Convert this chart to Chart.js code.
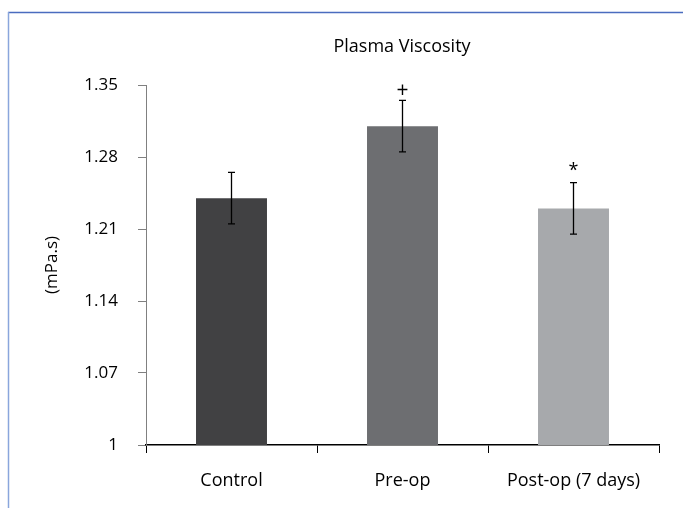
<!DOCTYPE html>
<html>
<head>
<meta charset="utf-8">
<script src="https://cdn.jsdelivr.net/npm/chart.js@4/dist/chart.umd.min.js"></script>
<style>
  html, body { margin: 0; padding: 0; background: #ffffff; }
  #wrap { width: 683px; height: 508px; position: relative; }
</style>
</head>
<body>
<div id="wrap"><canvas id="c" width="683" height="508"></canvas></div>
<script>
// ---- data ----
const categories = ['Control', 'Pre-op', 'Post-op (7 days)'];
const viscosity = [1.240, 1.310, 1.230];
const errorSD = [0.025, 0.025, 0.025];
const significance = ['', '+', '*'];
const yTickValues = [1, 1.07, 1.14, 1.21, 1.28, 1.35];
const barColors = ['#414143', '#6d6e71', '#a7a9ac'];

const FONT = "'Open Sans', 'Noto Sans', sans-serif";

const framePlugin = {
  id: 'frame',
  beforeDraw(chart) {
    const ctx = chart.ctx;
    ctx.save();
    ctx.fillStyle = '#ffffff';
    ctx.fillRect(0, 0, chart.width, chart.height);
    ctx.lineWidth = 1.5;
    ctx.strokeStyle = '#4a6cbf';
    ctx.beginPath();
    ctx.moveTo(8, 12.5);
    ctx.lineTo(chart.width, 12.5);
    ctx.stroke();
    ctx.strokeStyle = '#8aa6dc';
    ctx.beginPath();
    ctx.moveTo(8.5, 12);
    ctx.lineTo(8.5, chart.height);
    ctx.stroke();
    ctx.restore();
  }
};

const errorBarPlugin = {
  id: 'errorBars',
  afterDatasetsDraw(chart) {
    const ctx = chart.ctx;
    const meta = chart.getDatasetMeta(0);
    const yScale = chart.scales.y;
    ctx.save();
    ctx.strokeStyle = '#000000';
    ctx.lineWidth = 1.3;
    meta.data.forEach((bar, i) => {
      const x = bar.x;
      const yTop = yScale.getPixelForValue(viscosity[i] + errorSD[i]);
      const yBot = yScale.getPixelForValue(viscosity[i] - errorSD[i]);
      const cap = 3.5;
      ctx.beginPath();
      ctx.moveTo(x, yTop); ctx.lineTo(x, yBot);
      ctx.moveTo(x - cap, yTop); ctx.lineTo(x + cap, yTop);
      ctx.moveTo(x - cap, yBot); ctx.lineTo(x + cap, yBot);
      ctx.stroke();
      if (significance[i]) {
        ctx.fillStyle = '#000000';
        ctx.textAlign = 'center';
        ctx.textBaseline = 'middle';
        if (significance[i] === '*') {
          ctx.font = '18px ' + FONT;
          ctx.fillText(significance[i], x, yTop - 12);
        } else {
          ctx.font = '21px ' + FONT;
          ctx.fillText(significance[i], x, yTop - 9);
        }
      }
    });
    ctx.restore();
  }
};

const titlePlugin = {
  id: 'mainTitle',
  afterDraw(chart) {
    const ctx = chart.ctx;
    const a = chart.chartArea;
    ctx.save();
    ctx.fillStyle = '#000000';
    ctx.font = '18px ' + FONT;
    ctx.textAlign = 'center';
    ctx.textBaseline = 'middle';
    ctx.fillText('Plasma Viscosity', 402, 47);
    ctx.restore();
  }
};

new Chart(document.getElementById('c'), {
  type: 'bar',
  data: {
    labels: categories,
    datasets: [{
      data: viscosity,
      backgroundColor: barColors,
      borderWidth: 0,
      categoryPercentage: 1,
      barPercentage: 0.415
    }]
  },
  options: {
    responsive: false,
    animation: false,
    devicePixelRatio: 1,
    layout: { padding: { left: 8, right: 24, top: 85, bottom: 0 } },
    plugins: {
      legend: { display: false },
      tooltip: { enabled: false },
      title: { display: false }
    },
    scales: {
      x: {
        grid: {
          offset: true,
          drawOnChartArea: false,
          drawTicks: true,
          tickLength: 8,
          color: '#000000',
          lineWidth: 1
        },
        border: { color: '#000000', width: 1.5 },
        ticks: {
          color: '#000000',
          padding: 17,
          font: { family: FONT, size: 18 },
          maxRotation: 0
        },
        afterFit(scale) { scale.height = 63; }
      },
      y: {
        min: 1,
        max: 1.35,
        afterBuildTicks(scale) {
          scale.ticks = yTickValues.map(v => ({ value: v }));
        },
        grid: {
          drawOnChartArea: false,
          drawTicks: true,
          tickLength: 8,
          color: '#808080',
          lineWidth: 1
        },
        border: { color: '#808080', width: 1 },
        ticks: {
          color: '#000000',
          padding: 20,
          font: { family: FONT, size: 17 },
          callback(value) {
            return value === 1 ? '1' : Number(value).toFixed(2);
          }
        },
        title: {
          display: true,
          text: '(mPa.s)',
          color: '#000000',
          font: { family: FONT, size: 17 },
          padding: { top: 34, bottom: 0 }
        },
        afterFit(scale) { scale.width = 138; }
      }
    }
  },
  plugins: [framePlugin, errorBarPlugin, titlePlugin]
});
</script>
</body>
</html>
